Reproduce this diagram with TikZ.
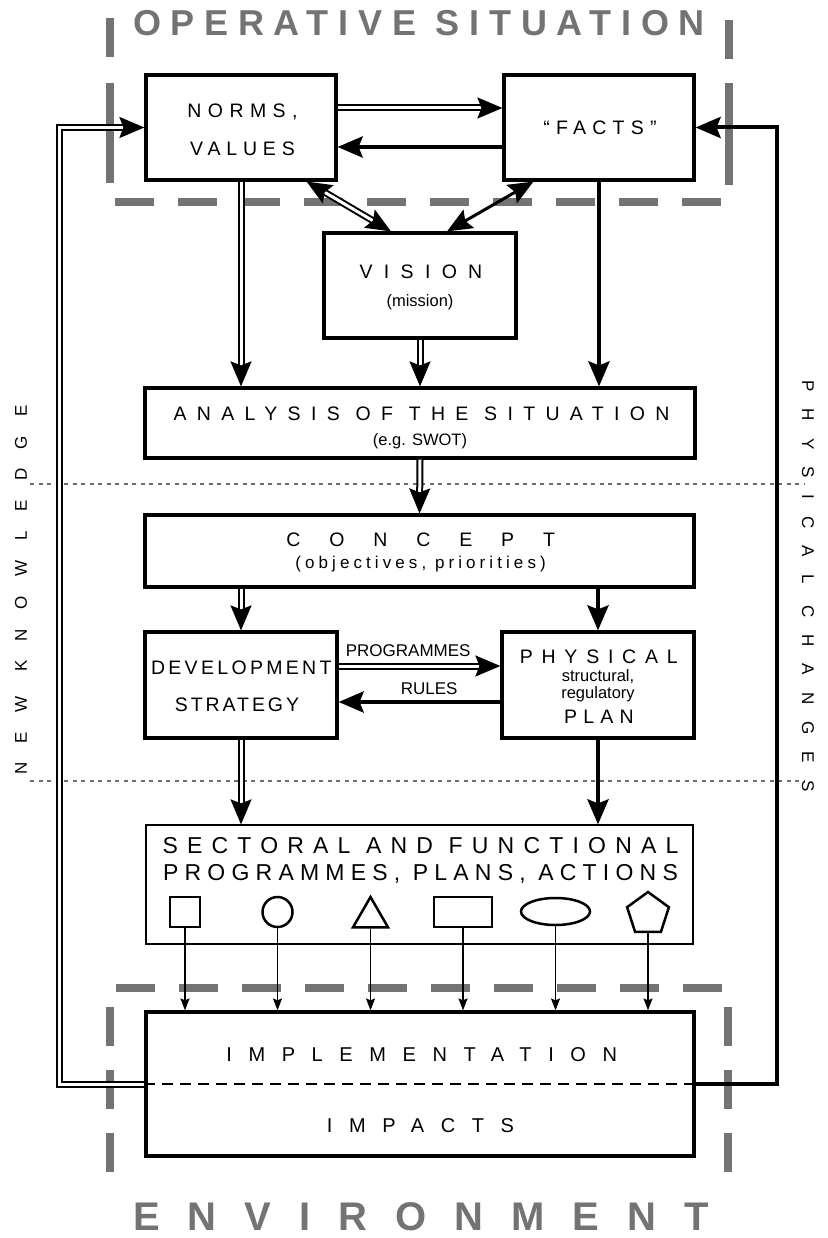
\documentclass[tikz,border=0pt]{standalone}
\usepackage{fontspec}
\setmainfont{Liberation Sans}
\usepackage{tikz}
\usetikzlibrary{arrows.meta}
\usetikzlibrary{shapes.geometric}
\definecolor{framegray}{HTML}{737373}
\definecolor{dotgray}{HTML}{6E6E6E}
\newcommand{\spfont}[2]{\fontsize{#1}{#1}\selectfont\addfontfeature{LetterSpace=#2}}
\begin{document}
\begin{tikzpicture}[x=1pt,y=-1pt,
		bigtip/.tip={Stealth[length=25pt,width=21pt,inset=4pt]},
		smalltip/.tip={Stealth[length=12pt,width=9pt,inset=2pt]},
		box/.style={draw,line width=3.2pt,inner sep=0pt},
		thinbox/.style={draw,line width=1.2pt,inner sep=0pt},
		shp/.style={draw,line width=2.5pt,inner sep=0pt},
		lbl/.style={inner sep=0pt},
		sgl/.style={line width=4pt,-bigtip},
		dbl/.style={double,line width=2pt,double distance=3pt,-bigtip},
		thinarr/.style={line width=1.5pt,-smalltip},
		graybar/.style={framegray,line width=8pt},
		graydash/.style={framegray,line width=8pt,dash pattern=on 39pt off 24pt},
		dotline/.style={dotgray,line width=1.4pt,dash pattern=on 4pt off 4.5pt},
		divline/.style={line width=1.8pt,dash pattern=on 11pt off 7pt}]
		\useasboundingbox (0,0) rectangle (827,1238);
		% frames
		\draw[graybar] (110,18) -- (110,57);
		\draw[graybar] (110,83) -- (110,183);
		\draw[graybar] (729,20) -- (729,59);
		\draw[graybar] (729,83) -- (729,185);
		\draw[graydash] (115,202.5) -- (723,202.5);
		\draw[graydash] (116,988) -- (723,988);
		\draw[graydash] (110,1007) -- (110,1175);
		\draw[graydash] (728,1007) -- (728,1175);
		\draw[dotline] (30,484) -- (805,484);
		\draw[dotline] (30,781) -- (805,781);
		% titles
		\node[lbl,framegray,font=\bfseries\spfont{36}{27}] (opsit) at (419,23) {OPERATIVE SITUATION};
		\node[lbl,framegray,font=\bfseries\spfont{40}{70}] (env) at (421,1217) {ENVIRONMENT};
		\node[lbl,rotate=90,font=\spfont{17}{115}] (newk) at (21,590) {NEW KNOWLEDGE};
		\node[lbl,rotate=-90,font=\spfont{17}{100}] (physch) at (808,586) {PHYSICAL CHANGES};
		% boxes
		\node[box,minimum width=190pt,minimum height=105pt] (norms) at (241,127.5) {};
		\node[lbl,font=\spfont{19.5}{33}] (normsa) at (242.5,111.5) {NORMS,};
		\node[lbl,font=\spfont{19.5}{30}] (normsb) at (242.5,148.5) {VALUES};
		\node[box,minimum width=190pt,minimum height=105pt] (facts) at (599,127.5) {};
		\node[lbl,font=\spfont{19.5}{32}] (factst) at (600,127.5) {“FACTS”};
		\node[box,minimum width=192pt,minimum height=105pt] (vision) at (420,285.5) {};
		\node[lbl,font=\spfont{19.5}{58}] (visiona) at (421,271.5) {VISION};
		\node[lbl,font=\spfont{16.5}{0}] (visionb) at (420,302) {(mission)};
		\node[box,minimum width=550pt,minimum height=70pt] (analysis) at (420,423) {};
		\node[lbl,font=\spfont{19.5}{53}] (analysisa) at (421.5,414) {ANALYSIS OF THE SITUATION};
		\node[lbl,font=\spfont{16.5}{0}] (analysisb) at (420,441.5) {(e.g. SWOT)};
		\node[box,minimum width=549pt,minimum height=72pt] (concept) at (419.5,551) {};
		\node[lbl,font=\spfont{19.5}{148}] (concepta) at (420.7,539.5) {CONCEPT};
		\node[lbl,font=\spfont{17}{24}] (conceptb) at (420.6,564.5) {(objectives, priorities)};
		\node[box,minimum width=192pt,minimum height=106pt] (dev) at (241,685) {};
		\node[lbl,font=\spfont{19.5}{17}] (deva) at (241.3,668) {DEVELOPMENT};
		\node[lbl,font=\spfont{19.5}{15}] (devb) at (237,704.5) {STRATEGY};
		\node[box,minimum width=192pt,minimum height=106pt] (phys) at (598,685) {};
		\node[lbl,font=\spfont{19.5}{45}] (physa) at (598.8,657) {PHYSICAL};
		\node[lbl,font=\spfont{16.5}{0}] (physb) at (598,676.5) {structural,};
		\node[lbl,font=\spfont{16.5}{0}] (physc) at (598,694) {regulatory};
		\node[lbl,font=\spfont{19.5}{32}] (physd) at (599,717) {PLAN};
		\node[thinbox,minimum width=547pt,minimum height=119pt] (sect) at (419.5,884.5) {};
		\node[lbl,font=\spfont{23}{40}] (secta) at (420.5,846) {SECTORAL AND FUNCTIONAL};
		\node[lbl,font=\spfont{23}{27}] (sectb) at (420.5,873.5) {PROGRAMMES, PLANS, ACTIONS};
		\node[shp,minimum size=30pt] (s1) at (185,912) {};
		\node[shp,circle,minimum size=30pt] (s2) at (277.5,912) {};
		\node[shp,regular polygon,regular polygon sides=3,minimum size=40.4pt] (s3) at (370.5,917.2) {};
		\node[shp,minimum width=58pt,minimum height=30pt] (s4) at (463,912) {};
		\node[shp,ellipse,minimum width=69pt,minimum height=27pt] (s5) at (555.5,911.5) {};
		\node[shp,regular polygon,regular polygon sides=5,minimum size=44pt] (s6) at (648,914) {};
		\node[box,minimum width=548pt,minimum height=144pt] (impl) at (420,1084) {};
		\draw[divline] (impl.west) -- (impl.east);
		\node[lbl,font=\spfont{20}{83}] (impla) at (421.7,1055) {IMPLEMENTATION};
		\node[lbl,font=\spfont{20}{83}] (implb) at (420.5,1125.5) {IMPACTS};
		% connectors
		\draw[dbl] ([yshift=19.5pt]norms.east) -- ([yshift=19.5pt]facts.west);
		\draw[sgl] ([yshift=-19.5pt]facts.west) -- ([yshift=-19.5pt]norms.east);
		\draw[dbl,bigtip-bigtip] ([xshift=-31pt]norms.south east) -- ([xshift=-29pt]vision.north);
		\draw[sgl,line width=3pt,bigtip-bigtip] ([xshift=31pt]facts.south west) -- ([xshift=27pt]vision.north);
		\draw[dbl] (norms.south) -- (norms.south |- analysis.north);
		\draw[dbl] (vision.south) -- (analysis.north);
		\draw[sgl] (facts.south) -- (facts.south |- analysis.north);
		\draw[dbl] (analysis.south) -- (concept.north);
		\draw[dbl] (dev.north |- concept.south) -- (dev.north);
		\draw[sgl] (phys.north |- concept.south) -- (phys.north);
		\draw[dbl] ([yshift=19pt]dev.east) -- ([yshift=19pt]phys.west)
			node[lbl,above,pos=0.43,yshift=8pt,font=\spfont{17}{0}] (progl) {PROGRAMMES};
		\draw[sgl] ([yshift=-17pt]phys.west) -- ([yshift=-17pt]dev.east)
			node[lbl,above,pos=0.44,yshift=5pt,font=\spfont{17}{0}] (rulesl) {RULES};
		\draw[dbl] (dev.south) -- (dev.south |- sect.north);
		\draw[sgl] (phys.south) -- (phys.south |- sect.north);
		\draw[thinarr] (s1.south) -- (s1.south |- impl.north);
		\draw[thinarr] (s2.south) -- (s2.south |- impl.north);
		\draw[thinarr] (s3.south) -- (s3.south |- impl.north);
		\draw[thinarr] (s4.south) -- (s4.south |- impl.north);
		\draw[thinarr] (s5.south) -- (s5.south |- impl.north);
		\draw[thinarr] (s6.south) -- (s6.south |- impl.north);
		% feedback
		\draw[dbl] (impl.west) -- ++(-85,0) |- (norms.west);
		\draw[sgl] (impl.east) -- ++(81,0) |- (facts.east);
	\end{tikzpicture}
\end{document}
